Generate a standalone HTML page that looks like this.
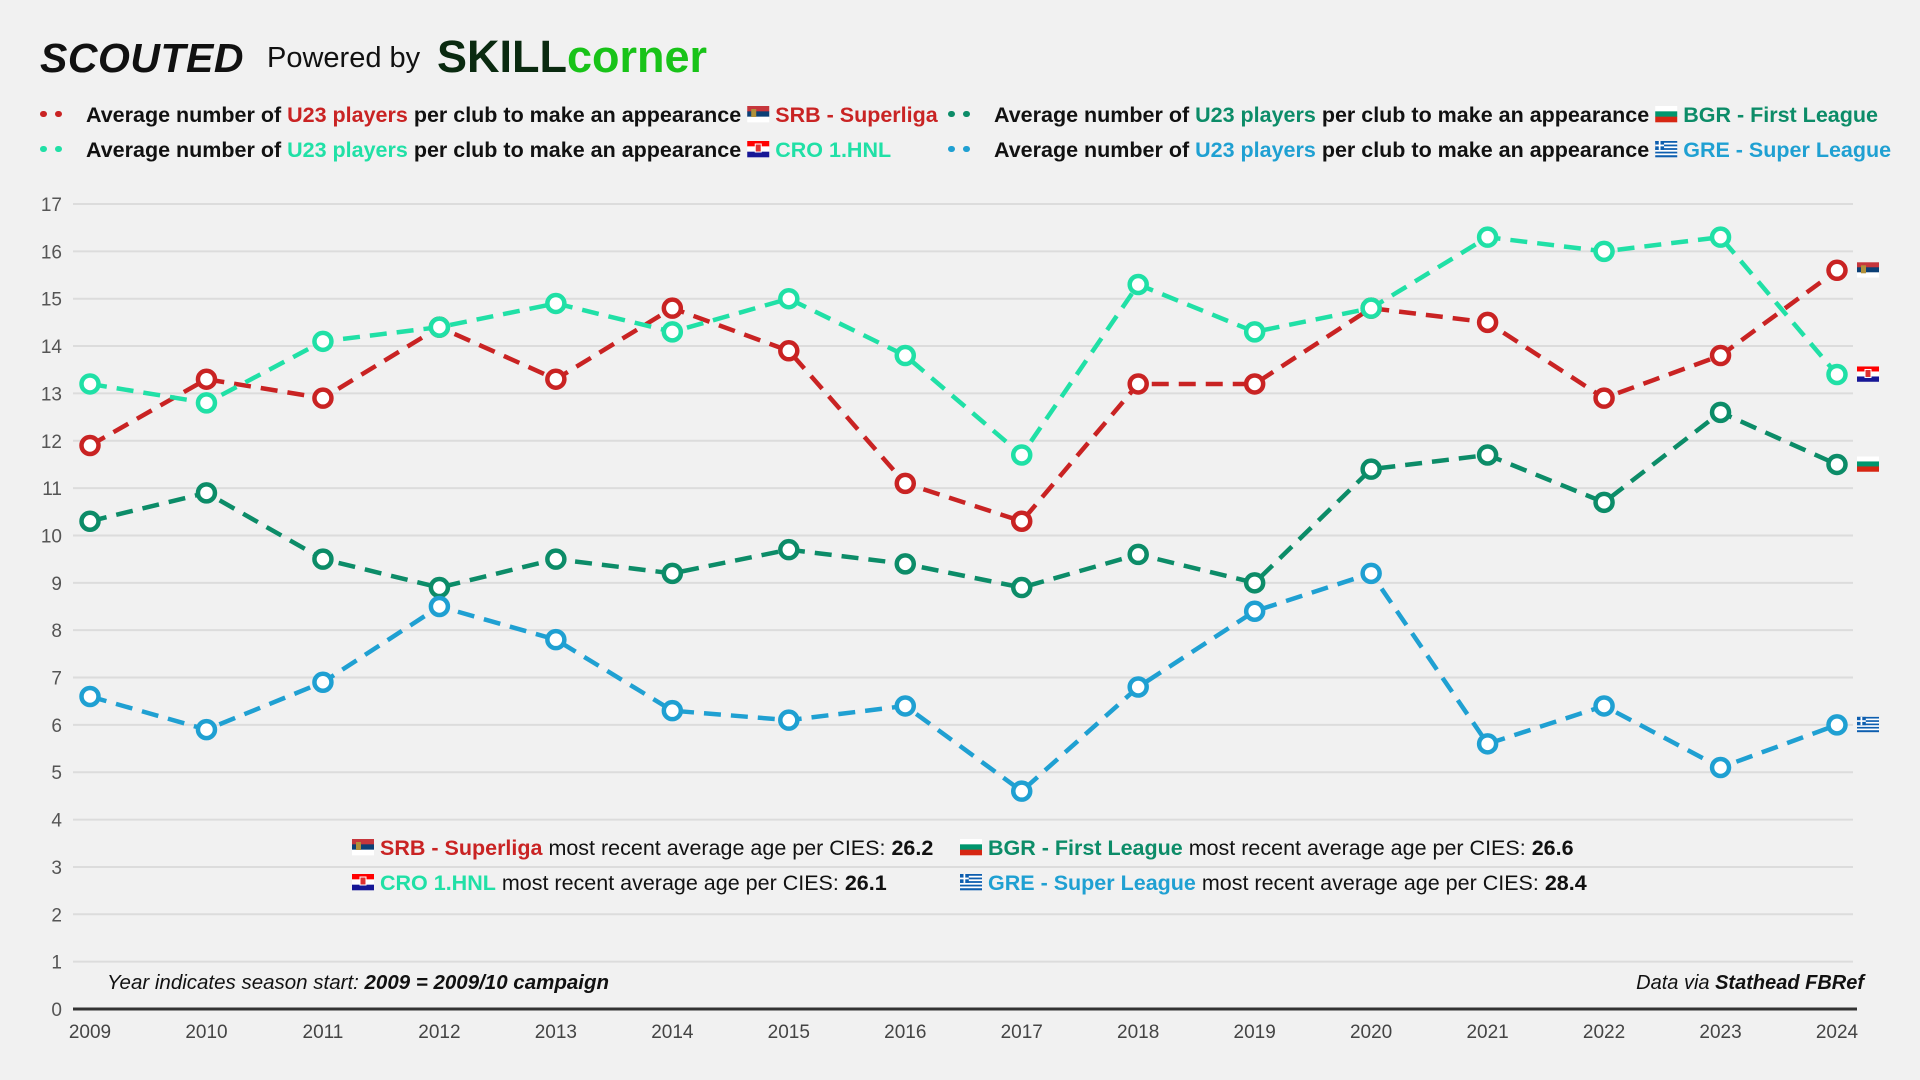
<!DOCTYPE html>
<html><head><meta charset="utf-8">
<style>
html,body{margin:0;padding:0;width:1920px;height:1080px;background:#f1f1f1;overflow:hidden;font-family:"Liberation Sans",sans-serif}
svg{position:absolute;left:0;top:0}
</style></head>
<body>
<svg id="chart" width="1920" height="1080">
  <g>
    <text x="40" y="72" font-size="41" font-weight="900" font-style="italic" fill="#111" letter-spacing="0.5">SCOUTED</text>
    <text x="267" y="67" font-size="29" fill="#111">Powered by</text>
    <text x="437" y="72" font-size="45" font-weight="700"><tspan fill="#0a2a10">SKILL</tspan><tspan fill="#18c318">corner</tspan></text>
  </g>
  <g id="legend"></g>
  <g id="grid"></g>
  <g id="yticks"></g>
  <g id="xticks"></g>
  <g id="series"></g>
  <g id="notes"></g>
</svg>
<script>
const years = [2009,2010,2011,2012,2013,2014,2015,2016,2017,2018,2019,2020,2021,2022,2023,2024];
const srbValues = [11.9,13.3,12.9,14.4,13.3,14.8,13.9,11.1,10.3,13.2,13.2,14.8,14.5,12.9,13.8,15.6];
const croValues = [13.2,12.8,14.1,14.4,14.9,14.3,15.0,13.8,11.7,15.3,14.3,14.8,16.3,16.0,16.3,13.4];
const bgrValues = [10.3,10.9,9.5,8.9,9.5,9.2,9.7,9.4,8.9,9.6,9.0,11.4,11.7,10.7,12.6,11.5];
const greValues = [6.6,5.9,6.9,8.5,7.8,6.3,6.1,6.4,4.6,6.8,8.4,9.2,5.6,6.4,5.1,6.0];
const yTicks = [0,1,2,3,4,5,6,7,8,9,10,11,12,13,14,15,16,17];

const NS='http://www.w3.org/2000/svg';
function mk(tag,attrs,parent,text){const e=document.createElementNS(NS,tag);for(const k in attrs)e.setAttribute(k,attrs[k]);if(text!==undefined)e.textContent=text;parent.appendChild(e);return e;}
const X=y=>90+(y-2009)*(1837-90)/15;
const Y=v=>1009-v*(1009-204)/17;

const grid=document.getElementById('grid'), yt=document.getElementById('yticks'), xt=document.getElementById('xticks');
yTicks.forEach(t=>{
  if(t>0){const l=mk('line',{x1:73,x2:1853,y1:Y(t),y2:Y(t),stroke:'#dcdcdc','stroke-width':2},grid);
  
  }
  const tx=mk('text',{x:62,y:Y(t)+7,'text-anchor':'end','font-size':19,fill:'#555'},yt,String(t));
  
  
});
const base=mk('line',{x1:73,x2:1857,y1:Y(0),y2:Y(0),stroke:'#333','stroke-width':3},xt);


years.forEach(yr=>{
  const tx=mk('text',{x:X(yr),y:1038,'text-anchor':'middle','font-size':19,fill:'#444'},xt,String(yr));
  
  
});

function flag(parent,x,y,type,w,h){
  w=w||22;h=h||15;
  const g=mk('g',{},parent);
  const cols={srb:['#c6363c','#0c4076','#fff'],cro:['#ff0000','#fff','#171796'],bgr:['#fff','#00966e','#d62612']}[type];
  if(type==='gre'){
    for(let i=0;i<9;i++)mk('rect',{x:x,y:y+i*h/9,width:w,height:h/9+0.3,fill:i%2?'#fff':'#0d5eaf'},g);
    mk('rect',{x:x,y:y,width:w*0.4,height:h*5/9,fill:'#0d5eaf'},g);
    mk('rect',{x:x+w*0.16,y:y,width:w*0.08,height:h*5/9,fill:'#fff'},g);
    mk('rect',{x:x,y:y+h*2/9,width:w*0.4,height:h/9,fill:'#fff'},g);
  } else {
    cols.forEach((c,i)=>mk('rect',{x:x,y:y+i*h/3,width:w,height:h/3+0.3,fill:c},g));
    if(type==='srb')mk('rect',{x:x+4,y:y+3,width:5,height:8,fill:'#b0903a'},g);
    if(type==='cro')mk('rect',{x:x+8,y:y+3,width:6,height:8,fill:'#e03030',stroke:'#fff','stroke-width':1},g);
  }
  return g;
}

const series=[
  {name:'srb',vals:srbValues,color:'#c92323'},
  {name:'cro',vals:croValues,color:'#20e0a6'},
  {name:'bgr',vals:bgrValues,color:'#0c8c68'},
  {name:'gre',vals:greValues,color:'#1fa0d2'}
];
const sg=document.getElementById('series');
series.forEach(s=>{
  const g=mk('g',{},sg);
  
  
  const pts=s.vals.map((v,i)=>X(years[i])+','+Y(v)).join(' ');
  const pl=mk('polyline',{points:pts,fill:'none',stroke:s.color,'stroke-width':4.5,'stroke-dasharray':'17 10','stroke-linejoin':'round'},g);
  
  
  s.vals.forEach((v,i)=>{
    const c=mk('circle',{cx:X(years[i]),cy:Y(v),r:8.5,fill:'#fff',stroke:s.color,'stroke-width':4.5},g);
    
    
  });
  const last=s.vals[s.vals.length-1];
  const f=flag(g,1857,Y(last)-8,s.name);
  
  
});

// legend
const lg=document.getElementById('legend');
const legendItems=[
  {x:40,y:122,color:'#c92323',flag:'srb',label:'SRB - Superliga',pre:'Average number of '},
  {x:948,y:122,color:'#0c8c68',flag:'bgr',label:'BGR - First League',pre:'Average number of '},
  {x:40,y:157,color:'#20e0a6',flag:'cro',label:'CRO 1.HNL',pre:'Average number of '},
  {x:948,y:157,color:'#1fa0d2',flag:'gre',label:'GRE - Super League',pre:'Average number  of '}
];
legendItems.forEach(it=>{
  const g=mk('g',{},lg);
  
  
  mk('line',{x1:it.x+3,x2:it.x+33,y1:it.y-8,y2:it.y-8,stroke:it.color,'stroke-width':6,'stroke-linecap':'round','stroke-dasharray':'1 14'},g);
  const t=mk('text',{x:it.x+46,y:it.y,'font-size':21.5,'font-weight':'bold',fill:'#111'},g);
  mk('tspan',{},t,it.pre);
  mk('tspan',{fill:it.color},t,'U23 players');
  mk('tspan',{},t,' per club to make an appearance');
  const len=t.getComputedTextLength();
  flag(g,it.x+46+len+6,it.y-16,it.flag,22,16);
  mk('text',{x:it.x+46+len+34,y:it.y,'font-size':21.5,'font-weight':'bold',fill:it.color},g,it.label);
});

// annotations
const ng=document.getElementById('notes');
const ages=[
  {x:352,y:855,flag:'srb',color:'#c92323',label:'SRB - Superliga',age:'26.2'},
  {x:960,y:855,flag:'bgr',color:'#0c8c68',label:'BGR - First League',age:'26.6'},
  {x:352,y:890,flag:'cro',color:'#20e0a6',label:'CRO 1.HNL',age:'26.1'},
  {x:960,y:890,flag:'gre',color:'#1fa0d2',label:'GRE - Super League ',age:'28.4'}
];
ages.forEach(a=>{
  const g=mk('g',{},ng);
  
  
  flag(g,a.x,a.y-16,a.flag,22,16);
  const t=mk('text',{x:a.x+28,y:a.y,'font-size':21.5,'font-weight':'bold',fill:'#111'},g);
  mk('tspan',{fill:a.color},t,a.label);
  mk('tspan',{'font-weight':'normal'},t,' most recent average age per CIES: ');
  mk('tspan',{},t,a.age);
});
const fn=mk('text',{x:107,y:989,'font-size':20.5,'font-style':'italic',fill:'#111'},ng);


mk('tspan',{},fn,'Year indicates season start: ');
mk('tspan',{'font-weight':'bold'},fn,'2009 = 2009/10 campaign');
const src=mk('text',{x:1864,y:989,'font-size':20,'font-style':'italic','text-anchor':'end',fill:'#111'},ng);


mk('tspan',{},src,'Data via ');
mk('tspan',{'font-weight':'bold'},src,'Stathead FBRef');
</script>
</body></html>
